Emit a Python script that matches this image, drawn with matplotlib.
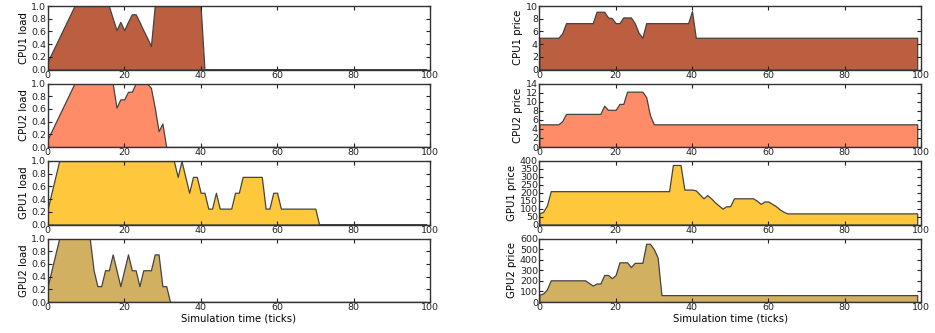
import numpy as np
import matplotlib
matplotlib.use('Agg')
import matplotlib.pyplot as plt

# Simulation ticks
ticks = np.arange(100)

def pad(vals, n=100, fill=None):
    # hold the last value (or fill) until the end of the run
    last = vals[-1] if fill is None else fill
    return np.array(list(vals) + [last] * (n - len(vals)))

# Loads (0..1)
cpu1_load = pad([0.125, 0.25, 0.375, 0.5, 0.625, 0.75, 0.875, 1.0,
                 1.0, 1.0, 1.0, 1.0, 1.0, 1.0, 1.0, 1.0, 1.0,
                 0.81, 0.62, 0.75, 0.62, 0.75, 0.87, 0.87, 0.75, 0.62, 0.5, 0.37,
                 1.0, 1.0, 1.0, 1.0, 1.0, 1.0, 1.0, 1.0, 1.0, 1.0, 1.0, 1.0, 1.0,
                 0.0])
cpu2_load = pad([0.125, 0.25, 0.375, 0.5, 0.625, 0.75, 0.875, 1.0,
                 1.0, 1.0, 1.0, 1.0, 1.0, 1.0, 1.0, 1.0, 1.0, 1.0,
                 0.62, 0.75, 0.75, 0.87, 0.87, 1.0, 1.0, 1.0, 1.0,
                 0.93, 0.62, 0.25, 0.37, 0.0])
gpu1_load = pad([0.25, 0.5, 0.75] + [1.0] * 31 +
                [0.75, 1.0, 0.75, 0.5, 0.75, 0.75, 0.5, 0.5, 0.25, 0.25, 0.5,
                 0.25, 0.25, 0.25, 0.25, 0.5, 0.5,
                 0.75, 0.75, 0.75, 0.75, 0.75, 0.75,
                 0.25, 0.25, 0.5, 0.5] + [0.25] * 10 + [0.0])
gpu2_load = pad([0.25, 0.5, 0.75, 1.0, 1.0, 1.0, 1.0, 1.0, 1.0, 1.0, 1.0, 1.0,
                 0.5, 0.25, 0.25, 0.5, 0.5, 0.75, 0.5, 0.25, 0.5, 0.75, 0.5, 0.5,
                 0.25, 0.5, 0.5, 0.5, 0.75, 0.75, 0.25, 0.25, 0.0])

# Prices
cpu1_price = pad([5, 5, 5, 5, 5, 5, 5.7, 7.3] + [7.3] * 7 +
                 [9.1, 9.1, 9.1, 8.2, 8.1, 7.3, 7.3, 8.2, 8.2, 8.2, 7.3, 5.8, 5.0] +
                 [7.3] * 12 + [9.2, 5.0])
cpu2_price = pad([5, 5, 5, 5, 5, 5, 5.7, 7.3] + [7.3] * 9 +
                 [9.1, 8.2, 8.2, 8.2, 9.5, 9.5, 12.2, 12.2, 12.2, 12.2, 12.2,
                  11.0, 7.0, 5.0])
gpu1_price = pad([70, 80, 120] + [210] * 32 +
                 [375, 375, 375, 220, 220, 220, 215, 190, 165, 185, 165, 140, 120,
                  100, 115, 115, 165, 165, 165, 165, 165, 165, 150, 130, 145, 145,
                  130, 115, 95, 80, 70])
gpu2_price = pad([70, 80, 120] + [205] * 10 +
                 [180, 155, 175, 175, 255, 255, 225, 255, 375, 375, 375, 330,
                  370, 370, 370, 550, 550, 500, 420, 65])

colors = ['#BC5F40', '#FF8C69', '#FFC83C', '#D1B062']
loads = [cpu1_load, cpu2_load, gpu1_load, gpu2_load]
prices = [cpu1_price, cpu2_price, gpu1_price, gpu2_price]
load_labels = ['CPU1 load', 'CPU2 load', 'GPU1 load', 'GPU2 load']
price_labels = ['CPU1 price', 'CPU2 price', 'GPU1 price', 'GPU2 price']
price_ylims = [(0, 10), (0, 14), (0, 400), (0, 600)]
price_steps = [2, 2, 50, 100]

fig = plt.figure(figsize=(9.35, 3.33), dpi=100)
axes_h = 63.5 / 333
gap = 14 / 333
top = 1 - 6 / 333

def style(ax):
    ax.set_xlim(0, 100)
    ax.set_xticks(range(0, 101, 20))
    ax.tick_params(direction='in', top=True, right=True, labelsize=6.8,
                   length=3, pad=1, colors='#222222')
    for s in ax.spines.values():
        s.set_color('#333333')
        s.set_linewidth(1)

for i in range(4):
    bottom = top - axes_h - i * (axes_h + gap)
    ax_l = fig.add_axes([47.7 / 935, bottom, 382.3 / 935, axes_h])
    ax_l.fill_between(ticks, loads[i], color=colors[i], edgecolor='#444444', linewidth=0.9)
    ax_l.set_ylim(0, 1)
    ax_l.set_yticks(np.arange(0, 1.01, 0.2))
    ax_l.set_yticklabels([f'{v:.1f}' for v in np.arange(0, 1.01, 0.2)])
    ax_l.set_ylabel(load_labels[i], fontsize=7.3, labelpad=2)
    style(ax_l)

    ax_r = fig.add_axes([539.3 / 935, bottom, 381.7 / 935, axes_h])
    ax_r.fill_between(ticks, prices[i], color=colors[i], edgecolor='#444444', linewidth=0.9)
    lo, hi = price_ylims[i]
    ax_r.set_ylim(lo, hi)
    ax_r.set_yticks(np.arange(lo, hi + 1e-9, price_steps[i]))
    ax_r.set_ylabel(price_labels[i], fontsize=7.3, labelpad=2)
    style(ax_r)

    if i == 3:
        ax_l.set_xlabel('Simulation time (ticks)', fontsize=7.3, labelpad=1)
        ax_r.set_xlabel('Simulation time (ticks)', fontsize=7.3, labelpad=1)

fig.savefig('out.png', dpi=100)
